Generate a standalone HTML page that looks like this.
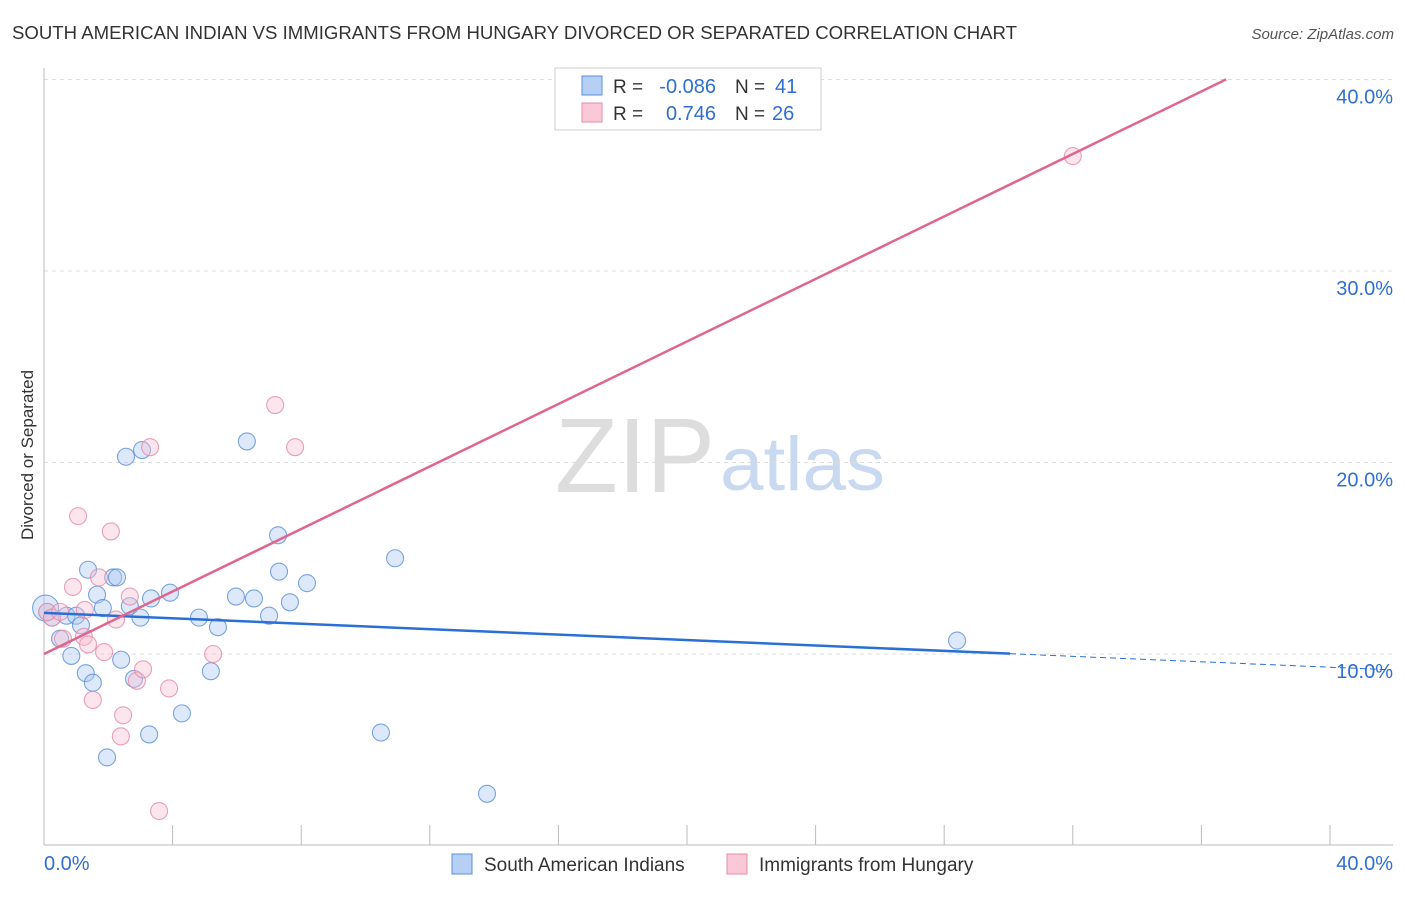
<!DOCTYPE html>
<html><head><meta charset="utf-8">
<style>
body{margin:0;background:#fff;font-family:"Liberation Sans",sans-serif;}
svg text{font-family:"Liberation Sans",sans-serif;}
</style></head>
<body>
<svg id="chart" width="1406" height="892" viewBox="0 0 1406 892">
<text x="12" y="39" font-size="18" fill="#333" textLength="1005" lengthAdjust="spacingAndGlyphs">SOUTH AMERICAN INDIAN VS IMMIGRANTS FROM HUNGARY DIVORCED OR SEPARATED CORRELATION CHART</text>
<text x="1394" y="39" font-size="15" fill="#555" text-anchor="end" font-style="italic">Source: ZipAtlas.com</text>
<text x="555" y="492" font-size="106" fill="#ddd" font-family="Liberation Serif" textLength="160" lengthAdjust="spacingAndGlyphs">ZIP</text>
<text x="720" y="490" font-size="76" fill="#c9d9f0" textLength="165" lengthAdjust="spacingAndGlyphs">atlas</text>
<text transform="translate(33,455) rotate(-90)" font-size="17" fill="#333" text-anchor="middle">Divorced or Separated</text>
<g id="grid"></g><g id="marks"></g>
<g>
<rect x="555" y="68" width="266" height="62" fill="#fff" stroke="#ccc"/>
<rect x="582" y="76" width="20" height="19" fill="#b6d0f5" stroke="#5b8fd6"/>
<rect x="582" y="103" width="20" height="19" fill="#f9c9d8" stroke="#e58aa8"/>
<text x="613" y="93" font-size="19" fill="#333">R =</text>
<text x="716" y="93" font-size="20" fill="#2f6fd0" text-anchor="end">-0.086</text>
<text x="735" y="93" font-size="19" fill="#333">N =</text>
<text x="775" y="93" font-size="20" fill="#2f6fd0">41</text>
<text x="613" y="120" font-size="19" fill="#333">R =</text>
<text x="716" y="120" font-size="20" fill="#2f6fd0" text-anchor="end">0.746</text>
<text x="735" y="120" font-size="19" fill="#333">N =</text>
<text x="772" y="120" font-size="20" fill="#2f6fd0">26</text>
</g>
<g>
<rect x="452" y="854" width="20" height="20" fill="#b6d0f5" stroke="#5b8fd6"/>
<text x="484" y="871" font-size="19" fill="#333">South American Indians</text>
<rect x="727" y="854" width="20" height="20" fill="#f9c9d8" stroke="#e58aa8"/>
<text x="759" y="871" font-size="19" fill="#333">Immigrants from Hungary</text>
</g>
</svg>
<script>
const yTicks=[10,20,30,40];
const yTickLabels=["10.0%","20.0%","30.0%","40.0%"];
const blueX=[0.1,0.25,0.5,0.7,0.85,1.0,1.15,1.3,1.37,1.52,1.65,1.83,1.96,2.15,2.27,2.4,2.55,2.67,2.8,3.0,3.05,3.27,3.33,3.92,4.29,4.82,5.19,5.41,5.97,6.31,6.53,7.0,7.28,7.31,7.65,8.18,10.48,10.92,13.78,28.4,0.05];
const blueY=[12.2,11.9,10.8,12.0,9.9,12.0,11.5,9.0,14.4,8.5,13.1,12.4,4.6,14.0,14.0,9.7,20.3,12.5,8.7,11.9,20.65,5.8,12.9,13.2,6.9,11.9,9.1,11.4,13.0,21.1,12.9,12.0,16.2,14.3,12.7,13.7,5.9,15.0,2.7,10.7,12.4];
const pinkX=[0.1,0.25,0.59,0.9,1.06,1.24,1.37,1.52,1.71,1.87,2.08,2.24,2.46,2.39,2.67,2.89,3.08,3.3,3.58,3.89,5.26,7.19,7.81,32.0,0.5,1.27];
const pinkY=[12.2,11.9,10.8,13.5,17.2,10.9,10.5,7.6,14.0,10.1,16.4,11.8,6.8,5.7,13.0,8.6,9.2,20.8,1.8,8.2,10.0,23.0,20.8,36.0,12.2,12.3];
const xs=v=>44+v*32.15, ys=v=>845.5-v*19.15;
const NS="http://www.w3.org/2000/svg";
const g=document.getElementById('grid'), m=document.getElementById('marks');
function mk(p,tag,a){const e=document.createElementNS(NS,tag);for(const k in a)e.setAttribute(k,a[k]);p.appendChild(e);return e;}
yTicks.forEach((t,i)=>{
 const l=mk(g,'line',{x1:44,x2:1393,y1:ys(t),y2:ys(t),stroke:'#ddd','stroke-dasharray':'4,4'});
 
 
 const tx=mk(g,'text',{x:1393,y:ys(t)+24,'font-size':20,fill:'#2f6fd0','text-anchor':'end'});tx.textContent=yTickLabels[i];
 
 
});
mk(g,'line',{x1:44,x2:44,y1:68,y2:845,stroke:'#bbb'});
mk(g,'line',{x1:44,x2:1393,y1:845,y2:845,stroke:'#bbb'});
for(let i=0;i<=10;i++){mk(g,'line',{x1:xs(i*4),x2:xs(i*4),y1:825,y2:845,stroke:'#bbb'});}
let t1=mk(g,'text',{x:44,y:870,'font-size':20,fill:'#2f6fd0'});t1.textContent="0.0%";
let t2=mk(g,'text',{x:1393,y:870,'font-size':20,fill:'#2f6fd0','text-anchor':'end'});t2.textContent="40.0%";
function dots(X,Y,fill,stroke,name){X.forEach((x,i)=>{const c=mk(m,'circle',{cx:xs(x),cy:ys(Y[i]),r:i==X.length-1&&name=='blue-point'?13:8.5,fill:fill,stroke:stroke,'stroke-width':1.1,'fill-opacity':0.4,'stroke-opacity':0.8});
 
 });}
dots(blueX,blueY,'#a9c8f2','#5b8fd6','blue-point');
dots(pinkX,pinkY,'#f7bfd0','#e58aa8','pink-point');
const bI=12.15,bS=-0.071;
mk(m,'line',{x1:xs(0),y1:ys(bI),x2:xs(30.05),y2:ys(bI+bS*30.05),stroke:'#2a6fd6','stroke-width':2.5});
mk(m,'line',{x1:xs(30.05),y1:ys(bI+bS*30.05),x2:xs(41.9),y2:ys(bI+bS*41.9),stroke:'#2a6fd6','stroke-width':1,'stroke-dasharray':'6,4'});
const pI=10.0,pS=0.816;
mk(m,'line',{x1:xs(0),y1:ys(pI),x2:xs(36.77),y2:ys(pI+pS*36.77),stroke:'#e06690','stroke-width':2.5});
</script>
</body></html>
